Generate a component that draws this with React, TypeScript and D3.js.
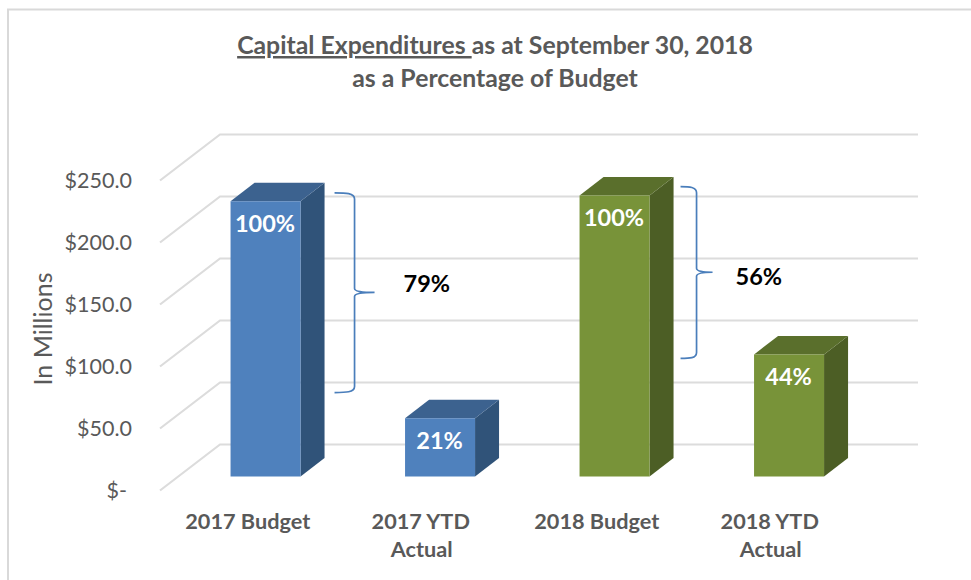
import React from "react";
import * as d3 from "d3";

const categories = ["2017 Budget", "2017 YTD|Actual", "2018 Budget", "2018 YTD|Actual"];
const values = [222, 47, 226.6, 98.4];
const barLabels = ["100%", "21%", "100%", "44%"];
const yTicks = [0, 50, 100, 150, 200, 250];
const tickLabels = ["$-", "$50.0", "$100.0", "$150.0", "$200.0", "$250.0"];
const frontColors = ["#4f81bd", "#4f81bd", "#789339", "#789339"];
const topColors = ["#3c628f", "#3c628f", "#5a6f2c", "#5a6f2c"];
const sideColors = ["#305379", "#305379", "#4c5e25", "#4c5e25"];
const braces = [
  { bar: 0, top: 240, bottom: 79, tip: 159.7, label: "79%" },
  { bar: 2, top: 245, bottom: 106.5, tip: 176, label: "56%" },
];

const W = 971;
const H = 580;
const FONT = "Lato, Carlito, 'Open Sans', sans-serif";
const GREY = "#595959";
const x = d3.scaleBand<string>().domain(categories).range([160, 858]);
const y = d3.scaleLinear().domain([0, 250]).range([490.5, 180.5]);
const DX = 60;
const DY = -46;
const BAR_W = 70;
const Z0 = 0.305;
const Z1 = 0.705;

const px = (xv: number, z: number) => xv + z * DX;
const py = (v: number, z: number) => y(v) + z * DY;
const poly = (pts: [number, number][]) => d3.line()(pts) + "Z";

function Bar({ i }: { i: number }) {
  const c = categories[i];
  const xl = x(c)! + x.bandwidth() / 2 - BAR_W / 2;
  const xr = xl + BAR_W;
  const v = values[i];
  const front: [number, number][] = [
    [px(xl, Z0), py(0, Z0)], [px(xr, Z0), py(0, Z0)], [px(xr, Z0), py(v, Z0)], [px(xl, Z0), py(v, Z0)],
  ];
  const top: [number, number][] = [
    [px(xl, Z0), py(v, Z0)], [px(xr, Z0), py(v, Z0)], [px(xr, Z1), py(v, Z1)], [px(xl, Z1), py(v, Z1)],
  ];
  const side: [number, number][] = [
    [px(xr, Z0), py(0, Z0)], [px(xr, Z1), py(0, Z1)], [px(xr, Z1), py(v, Z1)], [px(xr, Z0), py(v, Z0)],
  ];
  return (
    <g>
      <path d={poly(side)} fill={sideColors[i]} />
      <path d={poly(top)} fill={topColors[i]} />
      <path d={poly(front)} fill={frontColors[i]} />
      <text x={px(xl + BAR_W / 2, Z0) - 0.5} y={py(v, Z0) + 31} textAnchor="middle" fontFamily={FONT} fontWeight={700} fontSize={23.5} fill="#fff">
        {barLabels[i]}
      </text>
    </g>
  );
}

function Brace({ b }: { b: (typeof braces)[number] }) {
  const c = categories[b.bar];
  const x0 = px(x(c)! + x.bandwidth() / 2 + BAR_W / 2, Z1) + (b.bar === 0 ? 10 : 7);
  const w = b.bar === 0 ? 20 : 16;
  const t = y(b.top);
  const m = y(b.tip);
  const e = y(b.bottom);
  const d = [
    `M${x0},${t}`,
    `C${x0 + w * 0.55},${t} ${x0 + w},${t} ${x0 + w},${t + 6}`,
    `L${x0 + w},${m - 4}`,
    `C${x0 + w},${m - 1} ${x0 + w * 1.4},${m} ${x0 + w * 2},${m}`,
    `C${x0 + w * 1.4},${m} ${x0 + w},${m + 1} ${x0 + w},${m + 4}`,
    `L${x0 + w},${e - 6}`,
    `C${x0 + w},${e} ${x0 + w * 0.55},${e} ${x0},${e}`,
  ].join(" ");
  return (
    <g>
      <path d={d} fill="none" stroke="#4a7ebb" strokeWidth={1.7} />
      <text x={x0 + w * 2 + (b.bar === 0 ? 29 : 23)} y={m + (b.bar === 0 ? 0 : 13)} textAnchor="start" fontFamily={FONT} fontWeight={700} fontSize={23.5} fill="#000">
        {b.label}
      </text>
    </g>
  );
}

export default function App() {
  return (
    <svg width={W} height={H} style={{ position: "fixed", left: 0, top: 0, background: "#fff" }}>
      <path d={`M8,${H} L8,9.5 L${W},9.5`} fill="none" stroke="#d9d9d9" strokeWidth={2} />
      <text x={495} y={54} textAnchor="middle" fontFamily={FONT} fontWeight={700} fontSize={24.8} fill={GREY}>
        <tspan textDecoration="underline">Capital Expenditures </tspan>
        <tspan>as at September 30, 2018</tspan>
      </text>
      <text x={495} y={87} textAnchor="middle" fontFamily={FONT} fontWeight={700} fontSize={24.8} fill={GREY}>
        as a Percentage of Budget
      </text>
      {yTicks.map((t, i) => (
        <g key={t}>
          <path
            d={`M${x.range()[0]},${y(t)} L${px(x.range()[0], 1)},${py(t, 1)} L${px(x.range()[1], 1)},${py(t, 1)}`}
            fill="none"
            stroke="#dcdcdc"
            strokeWidth={2.2}
          />
          <text x={i === 0 ? 127 : 132} y={y(t) + 7} textAnchor="end" fontFamily={FONT} fontSize={21.5} fill={GREY}>
            {tickLabels[i]}
          </text>
        </g>
      ))}
      <text transform="translate(52,329) rotate(-90)" textAnchor="middle" fontFamily={FONT} fontSize={25} fill={GREY}>
        In Millions
      </text>
      {categories.map((_, i) => <Bar key={i} i={i} />)}
      {categories.map((c) =>
        c.split("|").map((line, j) => (
          <text key={line + c} x={x(c)! + x.bandwidth() / 2 + (j === 0 && c.includes("|") ? -0.5 : 0.5) - (c.includes("|") ? 0.5 : 0)} y={529 + j * 28} textAnchor="middle" fontFamily={FONT} fontWeight={700} fontSize={21.7} fill={GREY}>
            {line}
          </text>
        ))
      )}
      {braces.map((b) => <Brace key={b.bar} b={b} />)}
    </svg>
  );
}
